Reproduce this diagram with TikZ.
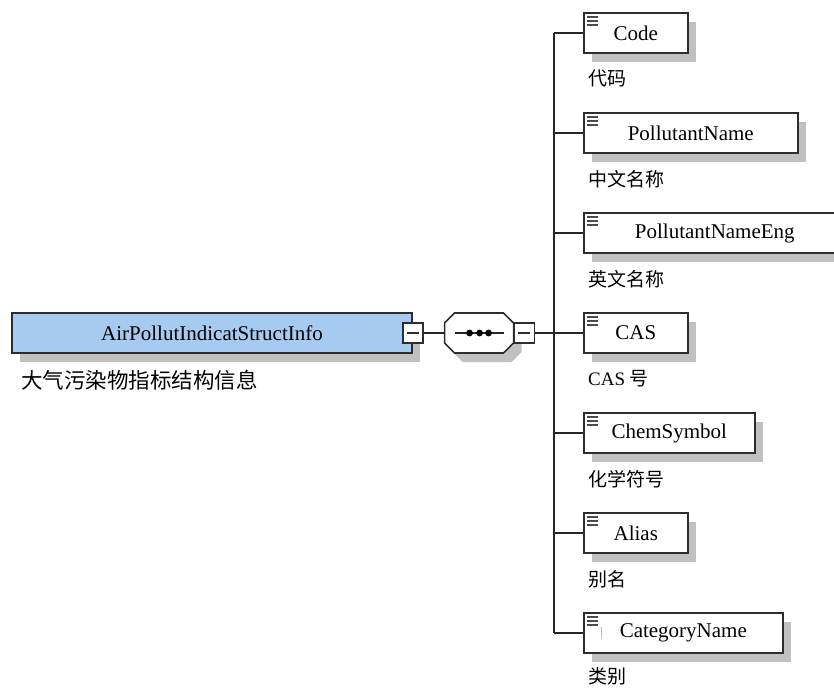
\documentclass[tikz,border=0pt]{standalone}
\usepackage{fontspec}
\setmainfont{Liberation Serif}
\newfontfamily\cjkfont{Noto Sans CJK SC}
\usetikzlibrary{
  positioning,
  calc,
  shadows}
\definecolor{rootcolor}{RGB}{166,202,240}
\definecolor{shadowcolor}{RGB}{192,192,192}
\definecolor{edgecolor}{RGB}{45,45,45}
\definecolor{iconcolor}{RGB}{75,75,75}
\tikzset{
  octagon/.pic = {
    \path [pic actions] (-24.5,-20) -- (24.5,-20) -- (34.5,-10) -- (34.5,10)
      -- (24.5,20) -- (-24.5,20) -- (-34.5,10) -- (-34.5,-10) -- cycle;
  }
}
\tikzset{
  %% element : a child element of the sequence
  element/.style={
    rectangle,
    draw=edgecolor,
    line width=1.6pt,
    fill=white,
    minimum width=104pt,
    minimum height=40pt,
    inner sep=0pt,
    font=\fontsize{21}{24}\selectfont,
    drop shadow={shadow xshift=8pt, shadow yshift=-9pt,
      fill=shadowcolor, opacity=1}
  },
  %% rootelem : the root element
  rootelem/.style={
    element,
    fill=rootcolor,
    minimum width=400pt
  },
  %% sequence : room for the sequence compositor
  %%    (the octagon itself is a pic)
  sequence/.style={
    rectangle,
    minimum width=69pt,
    minimum height=40pt,
    inner sep=0pt,
    outer sep=0pt
  },
  %% collapse : the minus button
  collapse/.style={
    rectangle,
    draw=edgecolor,
    line width=1.6pt,
    fill=white,
    minimum size=20pt,
    inner sep=0pt,
    path picture={
      \draw [line width=1.6pt, edgecolor]
        ([xshift=4pt]path picture bounding box.west) --
        ([xshift=-4pt]path picture bounding box.east);}
  },
  %% annotation : documentation below an element
  annotation/.style={
    font=\cjkfont\fontsize{19}{22}\selectfont,
    inner sep=0pt,
    anchor=north west
  },
  %% connector : lines between elements
  connector/.style={line width=1.4pt, black!85},
  %% iconline : the small lines in the corner of an element
  iconline/.style={iconcolor, line width=1.6pt}
}

\begin{document}
\begin{tikzpicture}
  [x=1pt,
  y=-1pt]
  \useasboundingbox (0,0) rectangle (834,688);

  %% root element
  \node (root) [rootelem] at (212,333) {AirPollutIndicatStructInfo};
  \node (root_doc) [annotation, below=16pt of root.south west, anchor=north west,
    xshift=10pt, font=\cjkfont\fontsize{21.5}{24}\selectfont] {大气污染物指标结构信息};
  \node (root_minus) [collapse] at (root.east) {};

  %% sequence
  \node (seq) [sequence, right=21pt of root_minus] {};
  \pic [fill=shadowcolor] at ($(seq)+(8,9)$) {octagon};
  \pic [draw=edgecolor, fill=white, line width=1.6pt] at (seq) {octagon};
  \node (seq_minus) [collapse, right=0pt of seq] {};
  \draw [connector] ([xshift=-24.5pt]seq.center) -- ([xshift=24.5pt]seq.center);
  \fill ([xshift=-9.5pt]seq.center) circle (3.4);
  \fill ([xshift=0.5pt]seq.center) circle (3.4);
  \fill ([xshift=9.5pt]seq.center) circle (3.4);

  \coordinate (bus) at (554,333);

  %% child elements
  \node (code) [element, anchor=west] at (583,33) {Code};
  \node (code_doc) [annotation, below=16pt of code.south west, anchor=north west,
    xshift=5pt] {代码};

  \node (pollutant_name) [element, anchor=west, minimum width=214pt]
    at (583,133) {PollutantName};
  \node (pollutant_name_doc) [annotation, below=16pt of pollutant_name.south west,
    anchor=north west, xshift=5pt] {中文名称};

  \node (pollutant_name_eng) [element, anchor=west, minimum width=262pt]
    at (583,233) {PollutantNameEng};
  \node (pollutant_name_eng_doc) [annotation, below=16pt of pollutant_name_eng.south west,
    anchor=north west, xshift=5pt] {英文名称};

  \node (cas) [element, anchor=west] at (583,333) {CAS};
  \node (cas_doc) [annotation, below=16pt of cas.south west, anchor=north west,
    xshift=5pt] {\rmfamily\fontsize{19}{22}\selectfont CAS \cjkfont 号};

  \node (chem_symbol) [element, anchor=west, minimum width=171pt]
    at (583,433) {ChemSymbol};
  \node (chem_symbol_doc) [annotation, below=16pt of chem_symbol.south west,
    anchor=north west, xshift=5pt] {化学符号};

  \node (alias) [element, anchor=west] at (583,533) {Alias};
  \node (alias_doc) [annotation, below=16pt of alias.south west, anchor=north west,
    xshift=5pt] {别名};

  \node (category_name) [element, anchor=west, minimum width=199pt]
    at (583,633) {CategoryName};
  \node (category_name_doc) [annotation, below=14pt of category_name.south west,
    anchor=north west, xshift=5pt] {类别};
  \draw [black!25, line width=0.8pt] ([xshift=18pt, yshift=-15pt]category_name.north west)
    -- ++(0,12);

  %% icons
  \foreach \n in {code, pollutant_name, pollutant_name_eng, cas, chem_symbol,
    alias, category_name}{
    \foreach \k in {0,1,2}
      \draw [iconline] ([xshift=3.5pt, yshift=-5pt-4*\k pt]\n.north west) -- ++(11.5,0);
  }

  %% Connections
  \draw [connector] (root_minus) -- (seq);
  \draw [connector] (seq_minus) -- (bus);
  \draw [connector] (bus |- code.west) -- (bus |- category_name.west);
  \draw [connector] (bus |- code.west) -- (code);
  \draw [connector] (bus |- pollutant_name.west) -- (pollutant_name);
  \draw [connector] (bus |- pollutant_name_eng.west) -- (pollutant_name_eng);
  \draw [connector] (bus) -- (cas);
  \draw [connector] (bus |- chem_symbol.west) -- (chem_symbol);
  \draw [connector] (bus |- alias.west) -- (alias);
  \draw [connector] (bus |- category_name.west) -- (category_name);

\end{tikzpicture}
\end{document}
